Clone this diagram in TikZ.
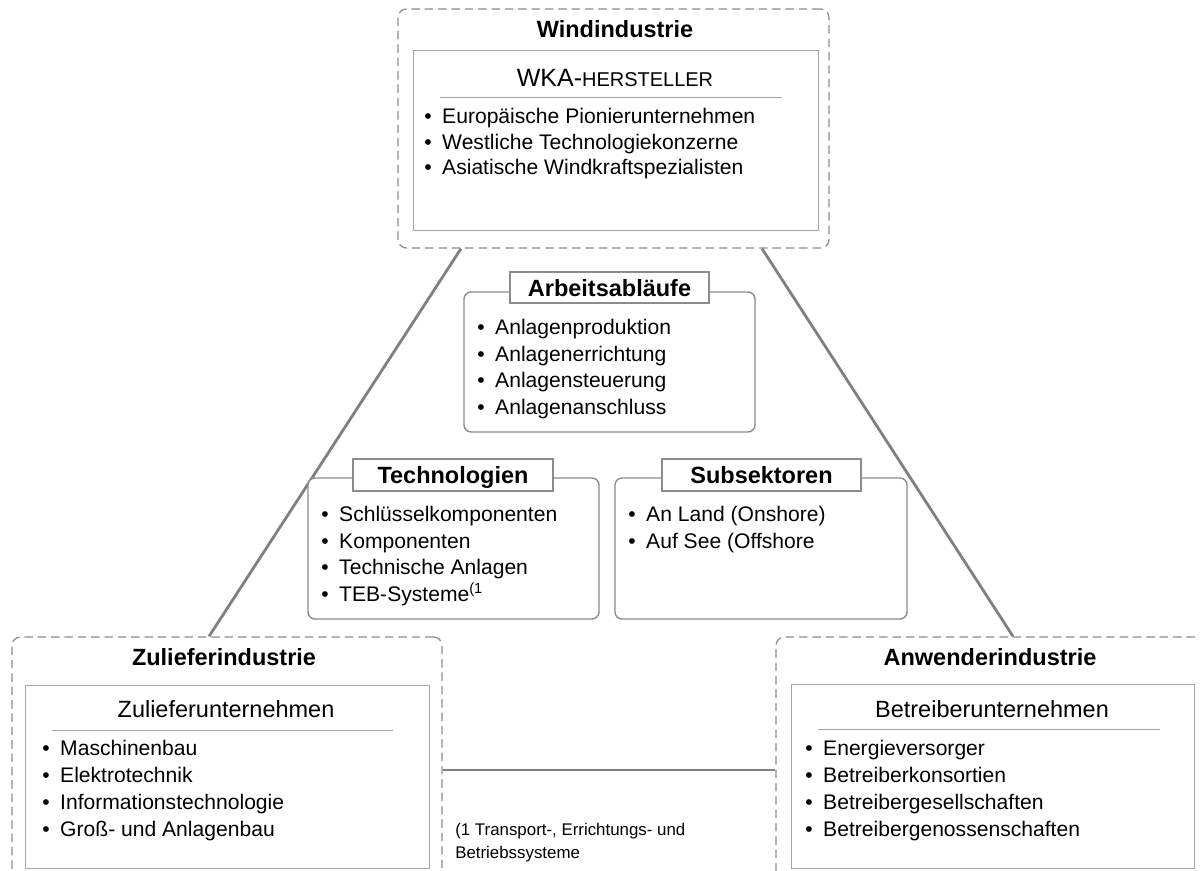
\documentclass[tikz,border=0pt]{standalone}
\usepackage{fontspec}
\setmainfont{Liberation Sans}
\usetikzlibrary{fit}

\newcommand{\bul}{•\hspace{0.5em}}

\begin{document}
\begin{tikzpicture}[x=0.025cm,y=-0.025cm,
  sector/.style={draw=black!45, dash pattern=on 6pt off 3.5pt, line width=0.9pt, rounded corners=6pt, inner sep=0pt},
  firms/.style={draw=black!35, line width=0.7pt, inner sep=0pt},
  aspect/.style={draw=black!45, fill=white, line width=1pt, rounded corners=5pt, inner sep=0pt},
  tab/.style={draw=black!45, fill=white, line width=1pt, inner sep=0pt},
  link/.style={draw=black!50, line width=2pt},
  sepline/.style={draw=black!35, line width=0.6pt},
  headline/.style={font=\bfseries\fontsize{16.7}{19}\selectfont, anchor=base, inner sep=0pt},
  firmhead/.style={font=\fontsize{16.7}{19}\selectfont, anchor=base, inner sep=0pt},
  items/.style={font=\fontsize{15}{#1}\selectfont, align=left, anchor=north west, inner sep=0pt},
  note/.style={font=\fontsize{12}{16}\selectfont, align=left, anchor=north west, inner sep=0pt}]

  \useasboundingbox (0,0) rectangle (1200,870);
  \clip (0,0) rectangle (1200,870);

  \node[sector, fit={(398,9) (829,248)}] (wind) {};
  \node[sector, fit={(12,637) (442,900)}] (zul) {};
  \node[sector, fit={(776,637) (1230,900)}] (anw) {};

  \draw[link] (wind.south -| 461,0) -- (zul.north -| 209,0);
  \draw[link] (wind.south -| 762,0) -- (anw.north -| 1013,0);
  \draw[link] (zul.east |- 0,770) -- (anw.west |- 0,770);

  \node[headline] (windT) at (615,37) {Windindustrie};
  \node[headline] (zulT) at (224,665) {Zulieferindustrie};
  \node[headline] (anwT) at (990,665) {Anwenderindustrie};

  \node[firms, fit={(413,50) (818,230)}] (wka) {};
  \node[firms, fit={(25,685) (429,868)}] (zulU) {};
  \node[firms, fit={(791,684) (1194,868)}] (anwU) {};

  \node[firmhead] (wkaH) at (615,86) {\fontsize{17.8}{19}\selectfont WKA-\fontsize{14.2}{19}\selectfont HERSTELLER};
  \node[firmhead] (zulH) at (226,717) {Zulieferunternehmen};
  \node[firmhead] (anwH) at (992,717) {Betreiberunternehmen};

  \draw[sepline] (440,97) -- (782,97);
  \draw[sepline] (52,730) -- (393,730);
  \draw[sepline] (818,729) -- (1160,729);

  \node[items=18.1pt] (wkaL) at (424,108) {\bul Europäische Pionierunternehmen\\\bul Westliche Technologiekonzerne\\\bul Asiatische Windkraftspezialisten};
  \node[items=19.1pt] (zulL) at (42,740) {\bul Maschinenbau\\\bul Elektrotechnik\\\bul Informationstechnologie\\\bul Groß- und Anlagenbau};
  \node[items=19.1pt] (anwL) at (805,740) {\bul Energieversorger\\\bul Betreiberkonsortien\\\bul Betreibergesellschaften\\\bul Betreibergenossenschaften};

  \node[aspect, fit={(464,292) (755,432)}] (ablauf) {};
  \node[tab, fit={(510,272) (709,303)}] (ablaufT) {};
  \node[headline] at (609.5,296) {Arbeitsabläufe};
  \node[items=18.9pt] (ablaufL) at (477,319) {\bul Anlagenproduktion\\\bul Anlagenerrichtung\\\bul Anlagensteuerung\\\bul Anlagenanschluss};

  \node[aspect, fit={(308,478) (599,619)}] (tech) {};
  \node[tab, fit={(353,459) (553,491)}] (techT) {};
  \node[headline] at (453,483) {Technologien};
  \node[items=18.9pt] (techL) at (321,506) {\bul Schlüsselkomponenten\\\bul Komponenten\\\bul Technische Anlagen\\\bul TEB-Systeme\textsuperscript{(1}};

  \node[aspect, fit={(615,478) (907,619)}] (sub) {};
  \node[tab, fit={(662,459) (861,491)}] (subT) {};
  \node[headline] at (761.5,483) {Subsektoren};
  \node[items=18.9pt] (subL) at (628,506) {\bul An Land (Onshore)\\\bul Auf See (Offshore};

  \node[note] (fn) at (455,823) {(1 Transport-, Errichtungs- und\\Betriebssysteme};
\end{tikzpicture}
\end{document}
